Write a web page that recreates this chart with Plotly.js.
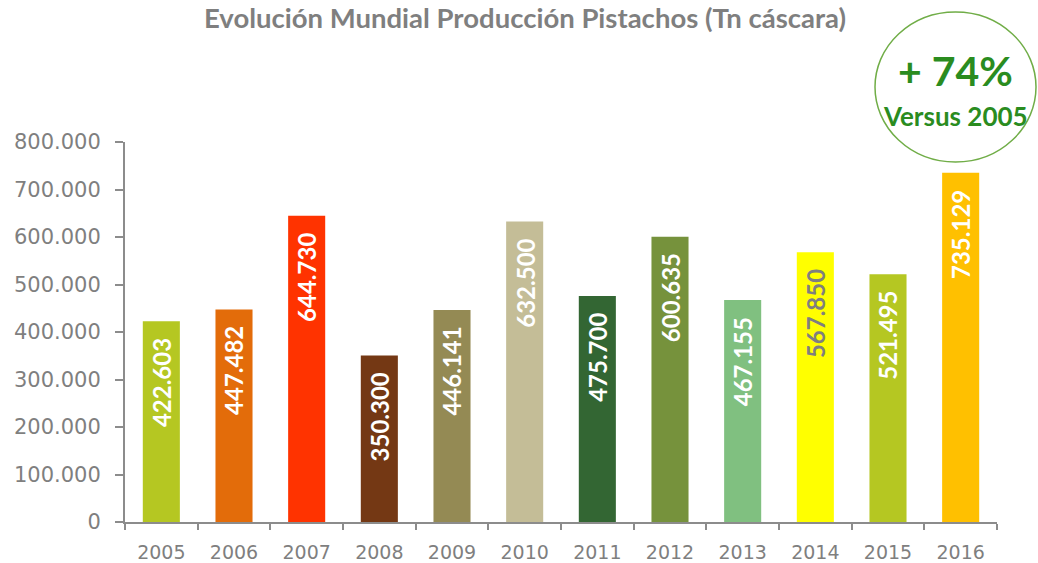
<!DOCTYPE html>
<html>
<head>
<meta charset="utf-8">
<script src="https://cdn.plot.ly/plotly-3.0.1.min.js"></script>
<style>html,body{margin:0;padding:0;background:#fff;}#chart{width:1038px;height:563px;}</style>
</head>
<body>
<div id="chart"></div>
<script>
const years = ['2005','2006','2007','2008','2009','2010','2011','2012','2013','2014','2015','2016'];
const production = [422603, 447482, 644730, 350300, 446141, 632500, 475700, 600635, 467155, 567850, 521495, 735129];
const barColors = ['#B5C722','#E36C0A','#FF3300','#743814','#948A54','#C4BD97','#336633','#76923C','#80C080','#FFFF00','#B5C722','#FFC000'];
const labelColors = ['#FFFFFF','#FFFFFF','#FFFFFF','#FFFFFF','#FFFFFF','#FFFFFF','#FFFFFF','#FFFFFF','#FFFFFF','#7F7F7F','#FFFFFF','#FFFFFF'];
const yTicks = [0, 100000, 200000, 300000, 400000, 500000, 600000, 700000, 800000];

function fmt(v){ return String(v).replace(/\B(?=(\d{3})+(?!\d))/g, '.'); }

const W = 1038, H = 563;
const m = {l:125, r:41, t:142, b:41};
const pw = W - m.l - m.r, ph = H - m.t - m.b;
function px(x){ return (x - m.l)/pw; }
function py(y){ return (H - m.b - y)/ph; }

const trace = {
  type: 'bar',
  x: years,
  y: production,
  marker: {color: barColors, line: {width: 0}},
  hoverinfo: 'x+y'
};

const annotations = years.map((yr, i) => ({
  x: i, y: production[i], xref: 'x', yref: 'y',
  text: '<b>' + fmt(production[i]) + '</b>', showarrow: false,
  textangle: -90, xanchor: 'center', yanchor: 'top', yshift: -15,
  font: {family: 'Lato, sans-serif', size: 24, color: labelColors[i]}
}));

annotations.push({
  xref: 'paper', yref: 'paper', x: px(955), y: py(70), xanchor: 'center', yanchor: 'middle',
  text: '<b>+ 74%</b>', showarrow: false,
  font: {family: 'Lato, sans-serif', size: 41, color: '#2A8C1F'}
});
annotations.push({
  xref: 'paper', yref: 'paper', x: px(955), y: py(116), xanchor: 'center', yanchor: 'middle',
  text: '<b>Versus 2005</b>', showarrow: false,
  font: {family: 'Lato, sans-serif', size: 26, color: '#2A8C1F'}
});

const layout = {
  width: W, height: H,
  margin: m,
  paper_bgcolor: '#FFFFFF', plot_bgcolor: '#FFFFFF',
  separators: ',.',
  showlegend: false,
  bargap: 0.49,
  title: {
    text: '<b>Evolución Mundial Producción Pistachos (Tn cáscara)</b>',
    x: 525 / W, xanchor: 'center', y: 1 - 18/H, yanchor: 'middle', xref: 'container', yref: 'container',
    font: {family: 'Lato, sans-serif', size: 27.5, color: '#7F7F7F'}
  },
  xaxis: {
    type: 'category',
    range: [-0.5, years.length - 0.5],
    autorange: false,
    showgrid: false, zeroline: false,
    showline: true, linecolor: '#8C8C8C', linewidth: 2,
    ticks: 'outside', tickson: 'boundaries', ticklen: 6, tickwidth: 2, tickcolor: '#8C8C8C',
    tickangle: 0,
    ticklabelstandoff: 12,
    tickfont: {family: 'DejaVu Sans, sans-serif', size: 19, color: '#7F7F7F'},
    fixedrange: true
  },
  yaxis: {
    range: [0, 800000],
    autorange: false,
    tickvals: yTicks,
    ticktext: yTicks.map(fmt),
    showgrid: false, zeroline: false,
    showline: true, linecolor: '#8C8C8C', linewidth: 2,
    ticks: 'outside', ticklen: 8, tickwidth: 2, tickcolor: '#8C8C8C',
    ticklabelstandoff: 10,
    tickfont: {family: 'DejaVu Sans, sans-serif', size: 21, color: '#7F7F7F'},
    fixedrange: true
  },
  shapes: [{
    type: 'circle', xref: 'paper', yref: 'paper',
    x0: px(875), x1: px(1036), y0: py(162), y1: py(12),
    line: {color: '#70AD47', width: 1.5}, fillcolor: 'rgba(0,0,0,0)'
  }],
  annotations: annotations
};

Plotly.newPlot('chart', [trace], layout, {displayModeBar: false, staticPlot: true});
</script>
</body>
</html>
